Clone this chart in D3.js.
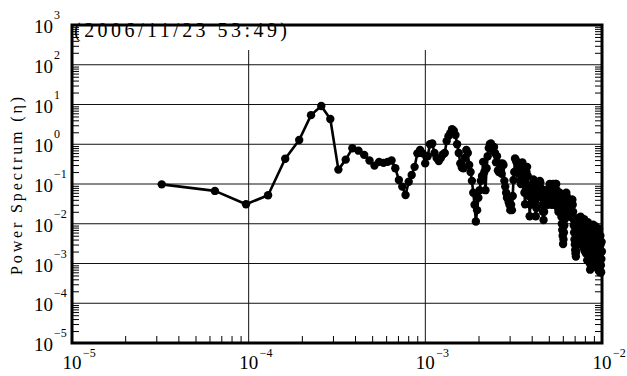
<!DOCTYPE html>
<html><head><meta charset="utf-8">
<script src="https://cdn.jsdelivr.net/npm/d3@7"></script>
<style>
html,body{margin:0;padding:0;background:#fff}
svg{display:block}
svg text{font-family:"Liberation Serif","DejaVu Serif","Times New Roman",serif}
</style>
</head><body><svg id="chart" width="627" height="376"></svg>
<script>
// Frequency bins (Hz)
const freq = [
3.22e-5,6.44e-5,9.66e-5,12.88e-5,16.1e-5,19.32e-5,22.54e-5,25.76e-5,28.98e-5,32.2e-5,
35.42e-5,38.64e-5,41.86e-5,45.08e-5,48.3e-5,51.52e-5,54.74e-5,57.96e-5,61.18e-5,64.4e-5,
67.62e-5,70.84e-5,74.06e-5,77.28e-5,80.5e-5,83.72e-5,86.94e-5,90.16e-5,93.38e-5,96.6e-5,
99.82e-5,103.04e-5,106.26e-5,109.48e-5,112.7e-5,115.92e-5,119.14e-5,122.36e-5,125.58e-5,128.8e-5,
132.02e-5,135.24e-5,138.46e-5,141.68e-5,144.9e-5,148.12e-5,151.34e-5,154.56e-5,157.78e-5,161e-5,
164.22e-5,167.44e-5,170.66e-5,173.88e-5,177.1e-5,180.32e-5,183.54e-5,186.76e-5,189.98e-5,193.2e-5,
196.42e-5,199.64e-5,202.86e-5,206.08e-5,209.3e-5,212.52e-5,215.74e-5,218.96e-5,222.18e-5,225.4e-5,
228.62e-5,231.84e-5,235.06e-5,238.28e-5,241.5e-5,244.72e-5,247.94e-5,251.16e-5,254.38e-5,257.6e-5,
260.82e-5,264.04e-5,267.26e-5,270.48e-5,273.7e-5,276.92e-5,280.14e-5,283.36e-5,286.58e-5,289.8e-5,
293.02e-5,296.24e-5,299.46e-5,302.68e-5,305.9e-5,309.12e-5,312.34e-5,315.56e-5,318.78e-5,322e-5,
325.22e-5,328.44e-5,331.66e-5,334.88e-5,338.1e-5,341.32e-5,344.54e-5,347.76e-5,350.98e-5,354.2e-5,
357.42e-5,360.64e-5,363.86e-5,367.08e-5,370.3e-5,373.52e-5,376.74e-5,379.96e-5,383.18e-5,386.4e-5,
389.62e-5,392.84e-5,396.06e-5,399.28e-5,402.5e-5,405.72e-5,408.94e-5,412.16e-5,415.38e-5,418.6e-5,
421.82e-5,425.04e-5,428.26e-5,431.48e-5,434.7e-5,437.92e-5,441.14e-5,444.36e-5,447.58e-5,450.8e-5,
454.02e-5,457.24e-5,460.46e-5,463.68e-5,466.9e-5,470.12e-5,473.34e-5,476.56e-5,479.78e-5,483e-5,
486.22e-5,489.44e-5,492.66e-5,495.88e-5,499.1e-5,502.32e-5,505.54e-5,508.76e-5,511.98e-5,515.2e-5,
518.42e-5,521.64e-5,524.86e-5,528.08e-5,531.3e-5,534.52e-5,537.74e-5,540.96e-5,544.18e-5,547.4e-5,
550.62e-5,553.84e-5,557.06e-5,560.28e-5,563.5e-5,566.72e-5,569.94e-5,573.16e-5,576.38e-5,579.6e-5,
582.82e-5,586.04e-5,589.26e-5,592.48e-5,595.7e-5,598.92e-5,602.14e-5,605.36e-5,608.58e-5,611.8e-5,
615.02e-5,618.24e-5,621.46e-5,624.68e-5,627.9e-5,631.12e-5,634.34e-5,637.56e-5,640.78e-5,644e-5,
647.22e-5,650.44e-5,653.66e-5,656.88e-5,660.1e-5,663.32e-5,666.54e-5,669.76e-5,672.98e-5,676.2e-5,
679.42e-5,682.64e-5,685.86e-5,689.08e-5,692.3e-5,695.52e-5,698.74e-5,701.96e-5,705.18e-5,708.4e-5,
711.62e-5,714.84e-5,718.06e-5,721.28e-5,724.5e-5,727.72e-5,730.94e-5,734.16e-5,737.38e-5,740.6e-5,
743.82e-5,747.04e-5,750.26e-5,753.48e-5,756.7e-5,759.92e-5,763.14e-5,766.36e-5,769.58e-5,772.8e-5,
776.02e-5,779.24e-5,782.46e-5,785.68e-5,788.9e-5,792.12e-5,795.34e-5,798.56e-5,801.78e-5,805e-5,
808.22e-5,811.44e-5,814.66e-5,817.88e-5,821.1e-5,824.32e-5,827.54e-5,830.76e-5,833.98e-5,837.2e-5,
840.42e-5,843.64e-5,846.86e-5,850.08e-5,853.3e-5,856.52e-5,859.74e-5,862.96e-5,866.18e-5,869.4e-5,
872.62e-5,875.84e-5,879.06e-5,882.28e-5,885.5e-5,888.72e-5,891.94e-5,895.16e-5,898.38e-5,901.6e-5,
904.82e-5,908.04e-5,911.26e-5,914.48e-5,917.7e-5,920.92e-5,924.14e-5,927.36e-5,930.58e-5,933.8e-5,
937.02e-5,940.24e-5,943.46e-5,946.68e-5,949.9e-5,953.12e-5,956.34e-5,959.56e-5,962.78e-5,966e-5,
969.22e-5,972.44e-5,975.66e-5,978.88e-5,982.1e-5,985.32e-5,988.54e-5,991.76e-5,994.98e-5,998.2e-5
];

// Power spectrum (η) at each bin
const power = [
0.098,0.067,0.031,0.052,0.43,1.28,5.4,9.2,4.3,0.23,
0.41,0.79,0.69,0.54,0.39,0.29,0.36,0.34,0.36,0.39,
0.25,0.126,0.086,0.053,0.114,0.168,0.27,0.59,0.72,0.59,
0.33,0.5,1.0,1.05,0.6,0.45,0.38,0.45,0.55,0.6,
1.2,1.6,1.9,2.4,2.2,1.7,1.0,0.6,0.33,0.26,
0.25,0.45,0.72,0.6,0.3,0.2,0.12,0.06,0.03,0.0114,
0.022,0.045,0.07,0.12,0.16,0.36,0.2,0.07,0.25,0.5,
0.8,1.0,1.05,0.9,0.72,0.85,0.6,0.35,0.5,0.22,
0.2,0.33,0.25,0.18,0.33,0.3,0.12,0.086,0.06,0.045,
0.045,0.035,0.03,0.022,0.03,0.022,0.05,0.126,0.2,0.44,
0.4,0.35,0.22,0.3,0.18,0.22,0.12,0.1,0.27,0.35,
0.27,0.15,0.06,0.031,0.07,0.2,0.27,0.16,0.09,0.05,
0.0155,0.03,0.086,0.06,0.04,0.1,0.13,0.08,0.05,0.035,
0.0155,0.025,0.05,0.08,0.11,0.1,0.07,0.12,0.11,0.08,
0.06,0.045,0.03,0.02,0.0124,0.02,0.035,0.05,0.07,0.045,
0.06,0.04,0.03,0.045,0.06,0.08,0.1,0.07,0.05,0.04,
0.03,0.05,0.07,0.1,0.06,0.045,0.03,0.04,0.07,0.1,
0.1,0.07,0.05,0.035,0.025,0.02,0.03,0.045,0.06,0.04,
0.03,0.02,0.015,0.01,0.007,0.005,0.0031,0.004,0.006,0.009,
0.013,0.02,0.03,0.045,0.06,0.05,0.035,0.025,0.018,0.025,
0.035,0.04,0.03,0.02,0.015,0.02,0.025,0.03,0.035,0.04,
0.04,0.03,0.02,0.013,0.009,0.006,0.004,0.003,0.0022,0.0018,
0.0015,0.002,0.003,0.0045,0.006,0.008,0.011,0.014,0.012,0.009,
0.007,0.012,0.004,0.009,0.015,0.006,0.011,0.003,0.008,0.005,
0.012,0.0035,0.007,0.0025,0.009,0.013,0.005,0.008,0.002,0.006,
0.0035,0.0018,0.005,0.01,0.004,0.0012,0.003,0.011,0.006,0.0025,
0.0015,0.004,0.008,0.002,0.001,0.0007,0.0018,0.005,0.0012,0.003,
0.0075,0.004,0.0015,0.0009,0.0025,0.006,0.0095,0.0035,0.0018,0.001,
0.0028,0.0065,0.0045,0.0015,0.0035,0.0085,0.005,0.002,0.0012,0.0008,
0.0016,0.004,0.007,0.003,0.0011,0.0007,0.0014,0.0045,0.0075,0.0025,
0.0012,0.0006,0.0018,0.005,0.003,0.0009,0.0006,0.0013,0.0035,0.002
];

// Axis decades (exponents of 10)
const xTickExp = [-5, -4, -3, -2];
const yTickExp = [-5, -4, -3, -2, -1, 0, 1, 2, 3];
const xGridExp = [-4, -3];
const yGridExp = [-4, -3, -2, -1, 0, 1, 2];
const stampText = "(2006/11/23 53:49)";
const yTitleText = "Power Spectrum (η)";

const W = 627, H = 376;
const margin = {left: 72, right: 25, top: 25, bottom: 33};

const svg = d3.select("#chart");
const x = d3.scaleLog().domain([1e-5, 1e-2]).range([margin.left, W - margin.right]);
const y = d3.scaleLog().domain([1e-5, 1e3]).range([H - margin.bottom, margin.top]);
const [x0, x1] = x.range();
const [y0, y1] = y.range();

// minor tick positions: 2..9 within each decade
function minorTicks(exps) {
  const out = [];
  for (let i = 0; i < exps.length - 1; i++)
    for (let m = 2; m <= 9; m++) out.push(m * Math.pow(10, exps[i]));
  return out;
}
const xMinor = minorTicks(xTickExp);
const yMinor = minorTicks(yTickExp);

// grid lines
const grid = svg.append("g").attr("stroke", "#111").attr("stroke-width", 1);
grid.selectAll("line.h").data(yGridExp).join("line")
  .attr("x1", x0).attr("x2", x1)
  .attr("y1", d => y(Math.pow(10, d))).attr("y2", d => y(Math.pow(10, d)));
grid.selectAll("line.v").data(xGridExp).join("line")
  .attr("x1", d => x(Math.pow(10, d))).attr("x2", d => x(Math.pow(10, d)))
  .attr("y1", y1).attr("y2", y0);

// header strip holding the time stamp
svg.append("rect").attr("x", x0).attr("y", y1).attr("width", x1 - x0).attr("height", 25).attr("fill", "#fff");
svg.append("text").attr("x", x0 + 2).attr("y", y1 + 12)
  .attr("font-size", 20).attr("fill", "#000")
  .attr("textLength", 213).attr("lengthAdjust", "spacing")
  .text(stampText);

// spectrum
const pts = freq.map((f, i) => ({f, p: power[i]}));
svg.append("path").datum(pts)
  .attr("fill", "none").attr("stroke", "#000").attr("stroke-width", 2.6)
  .attr("stroke-linejoin", "round")
  .attr("d", d3.line().x(d => x(d.f)).y(d => y(d.p)));
svg.append("g").selectAll("circle").data(pts).join("circle")
  .attr("cx", d => x(d.f)).attr("cy", d => y(d.p)).attr("r", 4.2).attr("fill", "#000");

// inward minor ticks on left, right and bottom
function styleAxis(g) {
  g.select(".domain").remove();
  g.selectAll(".tick line").attr("stroke", "#000").attr("stroke-width", 1);
}
svg.append("g").attr("transform", `translate(${x0},0)`)
  .call(d3.axisRight(y).tickValues(yMinor).tickSize(7).tickFormat("")).call(styleAxis);
svg.append("g").attr("transform", `translate(${x1},0)`)
  .call(d3.axisLeft(y).tickValues(yMinor).tickSize(7).tickFormat("")).call(styleAxis);
svg.append("g").attr("transform", `translate(0,${y0})`)
  .call(d3.axisTop(x).tickValues(xMinor).tickSize(7).tickFormat("")).call(styleAxis);

// frame
svg.append("rect").attr("x", x0).attr("y", y1).attr("width", x1 - x0).attr("height", y0 - y1)
  .attr("fill", "none").attr("stroke", "#000").attr("stroke-width", 3);

// tick labels: 10 with exponent
const fmtExp = e => (e < 0 ? "\u2212" + (-e) : String(e));
const yl = svg.append("g").attr("fill", "#000");
yTickExp.forEach(e => {
  const yy = y(Math.pow(10, e));
  yl.append("text").attr("x", 53).attr("y", yy + 8).attr("text-anchor", "end")
    .attr("font-size", 19).text("10");
  yl.append("text").attr("x", 54).attr("y", yy - 6).attr("font-size", 12).text(fmtExp(e));
});
const xl = svg.append("g").attr("fill", "#000");
xTickExp.forEach(e => {
  const xx = x(Math.pow(10, e));
  xl.append("text").attr("x", xx).attr("y", y0 + 26).attr("text-anchor", "middle")
    .attr("font-size", 19).text("10");
  xl.append("text").attr("x", xx + 11).attr("y", y0 + 14).attr("font-size", 12).text(fmtExp(e));
});

// y axis title
svg.append("text")
  .attr("transform", `translate(22,${(y0 + y1) / 2 + 2}) rotate(-90)`)
  .attr("text-anchor", "middle")
  .attr("font-size", 16).attr("fill", "#000")
  .attr("textLength", 178).attr("lengthAdjust", "spacing")
  .text(yTitleText);
</script>
</body></html>
